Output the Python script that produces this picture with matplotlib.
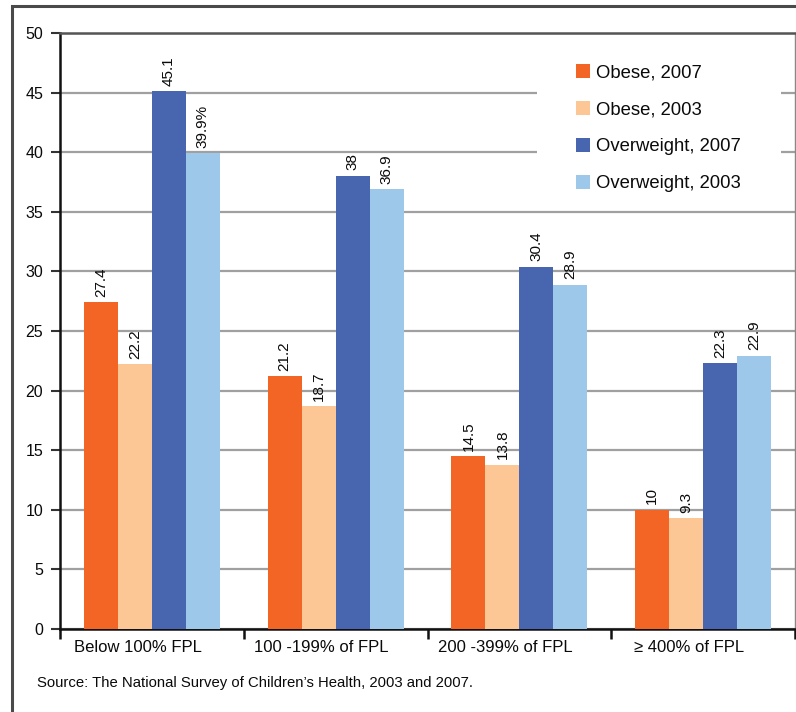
import matplotlib
matplotlib.use("Agg")
import matplotlib.pyplot as plt
from matplotlib.patches import Rectangle, Patch
from matplotlib.transforms import ScaledTranslation
import numpy as np

plt.rcParams['font.family'] = ['Liberation Sans', 'DejaVu Sans']

categories = ["Below 100% FPL", "100 -199% of FPL", "200 -399% of FPL", "\u2265 400% of FPL"]
series_names = ["Obese, 2007", "Obese, 2003", "Overweight, 2007", "Overweight, 2003"]
obese_2007 = [27.4, 21.2, 14.5, 10]
obese_2003 = [22.2, 18.7, 13.8, 9.3]
overweight_2007 = [45.1, 38, 30.4, 22.3]
overweight_2003 = [39.9, 36.9, 28.9, 22.9]
label_obese_2007 = ["27.4", "21.2", "14.5", "10"]
label_obese_2003 = ["22.2", "18.7", "13.8", "9.3"]
label_overweight_2007 = ["45.1", "38", "30.4", "22.3"]
label_overweight_2003 = ["39.9%", "36.9", "28.9", "22.9"]
yticks = [0, 5, 10, 15, 20, 25, 30, 35, 40, 45, 50]
source = "Source: The National Survey of Children\u2019s Health, 2003 and 2007."

colors = ["#F26524", "#FCC794", "#4865AF", "#9DC8E9"]

W, H = 796, 712
fig = plt.figure(figsize=(W / 100, H / 100), dpi=100)
fig.patch.set_facecolor("white")

# outer frame
fig.patches.append(Rectangle((12 / W, -0.05), 1.1, (H - 6) / H + 0.05,
                             transform=fig.transFigure, fill=False,
                             edgecolor="#4a4a4a", linewidth=2.2, zorder=0))

ax = fig.add_axes([60 / W, (H - 629) / H, (795 - 60) / W, (629 - 33) / H])

x = np.arange(len(categories))
bw = 0.185
all_vals = [obese_2007, obese_2003, overweight_2007, overweight_2003]
all_labels = [label_obese_2007, label_obese_2003, label_overweight_2007, label_overweight_2003]
for i, (vals, labs) in enumerate(zip(all_vals, all_labels)):
    pos = x + (i - 1.5) * bw
    ax.bar(pos, vals, width=bw, color=colors[i], edgecolor="none", zorder=3)
    for p, v, lab in zip(pos, vals, labs):
        ax.annotate(lab, (p, v), xytext=(0, 4), textcoords="offset points",
                    rotation=90, ha="center", va="bottom", fontsize=11,
                    color="#0a0a0a", zorder=5)

ax.set_xlim(-0.5, 3.5)
ax.set_ylim(0, 50)
ax.set_yticks(yticks)
ax.set_yticklabels([str(t) for t in yticks], fontsize=11.5, color="#0a0a0a")
ax.yaxis.grid(True, color="#a0a0a0", linewidth=1.6, zorder=1)
ax.set_axisbelow(True)

ax.set_xticks(x)
ax.set_xticklabels(categories, fontsize=12, color="#0a0a0a")
ax.tick_params(axis="x", which="major", length=0, pad=8)
shift = ScaledTranslation(-14 / 100, 0, fig.dpi_scale_trans)
for lbl in ax.get_xticklabels():
    lbl.set_transform(lbl.get_transform() + shift)
ax.set_xticks(np.arange(-0.5, 4.0, 1.0), minor=True)
ax.tick_params(axis="x", which="minor", length=7, width=1.8, color="#111111", direction="out")
ax.tick_params(axis="y", length=6.5, width=1.5, color="#333333", pad=5.5)

ax.spines["left"].set_color("#111111")
ax.spines["left"].set_linewidth(1.8)
ax.spines["bottom"].set_color("#111111")
ax.spines["bottom"].set_linewidth(1.8)
ax.spines["top"].set_color("#555555")
ax.spines["top"].set_linewidth(1.8)
ax.spines["right"].set_color("#888888")
ax.spines["right"].set_linewidth(1.0)

# white legend background that interrupts the gridlines
ax.add_patch(Rectangle((537 / W, (H - 200) / H), (781 - 537) / W, 160 / H,
                       transform=fig.transFigure, facecolor="white",
                       edgecolor="none", zorder=2))

handles = [Patch(facecolor=c, edgecolor="none") for c in colors]
leg = ax.legend(handles, series_names, loc="upper left",
                bbox_to_anchor=(570 / W, (H - 58) / H), bbox_transform=fig.transFigure,
                fontsize=13.3, frameon=False,
                handlelength=0.8, handleheight=0.8, handletextpad=0.3,
                labelspacing=1.06, borderpad=0.3, borderaxespad=0)
leg.set_zorder(4)
for t in leg.get_texts():
    t.set_color("#0a0a0a")

fig.text(37 / W, (H - 683) / H, source, fontsize=10.7, color="#0a0a0a",
         ha="left", va="center")

fig.savefig("out.png", dpi=100)
